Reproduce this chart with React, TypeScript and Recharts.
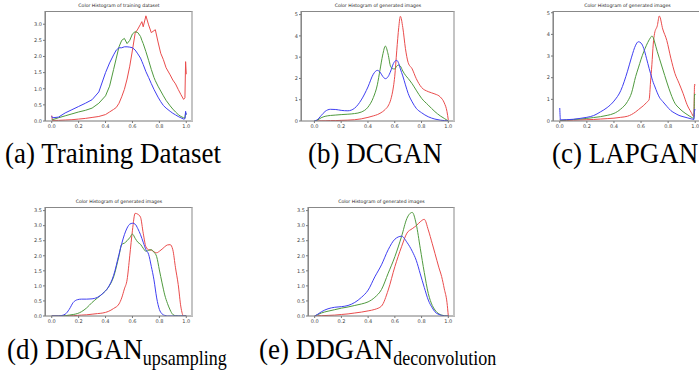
import { LineChart, Line, XAxis, YAxis } from "recharts"

const xTicks = [0, 0.2, 0.4, 0.6, 0.8, 1.0]

// (a) training dataset
const aX = [0, 0.005, 0.05, 0.1, 0.15, 0.2, 0.25, 0.3, 0.35, 0.4, 0.43, 0.46, 0.48, 0.5, 0.52, 0.54, 0.56, 0.58, 0.6, 0.62, 0.64, 0.66, 0.67, 0.68, 0.7, 0.72, 0.74, 0.76, 0.77, 0.79, 0.81, 0.83, 0.85, 0.88, 0.9, 0.92, 0.94, 0.96, 0.98, 0.99, 0.995, 1.0]
const aR = [0.17, 0.02, 0.02, 0.03, 0.04, 0.06, 0.08, 0.11, 0.14, 0.2, 0.28, 0.36, 0.42, 0.55, 0.75, 0.98, 1.3, 1.7, 2.2, 2.72, 2.85, 3.0, 3.08, 2.92, 3.26, 2.98, 2.74, 2.8, 2.83, 2.45, 2.1, 1.9, 1.65, 1.43, 1.27, 1.15, 0.98, 0.82, 0.67, 0.72, 1.84, 1.45]
const aG = [0.05, 0.04, 0.1, 0.16, 0.22, 0.28, 0.33, 0.4, 0.55, 0.78, 1.08, 1.6, 1.95, 2.3, 2.5, 2.56, 2.4, 2.5, 2.7, 2.77, 2.74, 2.62, 2.5, 2.4, 2.15, 1.88, 1.6, 1.35, 1.25, 1.08, 0.93, 0.78, 0.64, 0.47, 0.37, 0.28, 0.2, 0.14, 0.1, 0.09, 0.25, 0.2]
const aB = [0.15, 0.1, 0.12, 0.25, 0.35, 0.45, 0.55, 0.66, 0.9, 1.5, 1.8, 2.05, 2.2, 2.27, 2.27, 2.3, 2.3, 2.29, 2.27, 2.2, 2.08, 1.95, 1.85, 1.75, 1.53, 1.35, 1.16, 0.98, 0.9, 0.74, 0.6, 0.48, 0.4, 0.3, 0.24, 0.19, 0.14, 0.1, 0.06, 0.07, 0.3, 0.2]

// (b) DCGAN
const bX = [0, 0.02, 0.05, 0.08, 0.12, 0.16, 0.2, 0.25, 0.3, 0.35, 0.4, 0.44, 0.47, 0.49, 0.51, 0.53, 0.55, 0.57, 0.59, 0.6, 0.615, 0.63, 0.642, 0.66, 0.68, 0.7, 0.73, 0.76, 0.8, 0.85, 0.9, 0.94, 0.97, 0.99, 1.0]
const bR = [0, 0, 0.01, 0.01, 0.02, 0.02, 0.03, 0.04, 0.06, 0.1, 0.17, 0.24, 0.3, 0.36, 0.44, 0.55, 0.7, 1.0, 1.6, 2.1, 3.3, 4.4, 4.92, 4.4, 3.4, 2.75, 2.45, 2.0, 1.58, 1.38, 1.27, 1.13, 0.85, 0.45, 0.05]
const bG = [0, 0.03, 0.15, 0.22, 0.26, 0.28, 0.3, 0.32, 0.35, 0.42, 0.65, 1.1, 1.7, 2.4, 3.1, 3.52, 3.15, 2.55, 2.45, 2.45, 2.58, 2.63, 2.58, 2.35, 2.15, 2.0, 1.75, 1.45, 1.07, 0.75, 0.44, 0.24, 0.12, 0.04, 0.01]
const bB = [0, 0.05, 0.25, 0.45, 0.55, 0.54, 0.5, 0.48, 0.6, 0.99, 1.6, 2.2, 2.38, 2.3, 2.1, 1.99, 2.08, 2.35, 2.7, 2.8, 2.85, 2.7, 2.45, 2.12, 1.7, 1.3, 0.9, 0.6, 0.39, 0.2, 0.09, 0.04, 0.02, 0.01, 0]

// (c) LAPGAN
const cX = [0, 0.005, 0.05, 0.1, 0.15, 0.2, 0.25, 0.3, 0.35, 0.4, 0.45, 0.5, 0.53, 0.56, 0.58, 0.6, 0.62, 0.64, 0.66, 0.67, 0.68, 0.69, 0.7, 0.72, 0.735, 0.76, 0.79, 0.82, 0.85, 0.88, 0.91, 0.94, 0.97, 0.99, 0.995, 1.0]
const cR = [0.03, 0.02, 0.03, 0.04, 0.05, 0.06, 0.07, 0.09, 0.11, 0.13, 0.17, 0.22, 0.3, 0.42, 0.52, 0.62, 0.72, 0.85, 1.0, 1.8, 2.6, 3.55, 4.05, 4.4, 4.85, 4.25, 3.72, 2.9, 2.2, 1.75, 1.28, 0.75, 0.4, 0.2, 1.7, 1.65]
const cG = [0.05, 0.03, 0.05, 0.07, 0.09, 0.12, 0.16, 0.2, 0.26, 0.35, 0.55, 0.9, 1.3, 2.05, 2.45, 2.85, 3.2, 3.5, 3.75, 3.85, 3.92, 3.85, 3.65, 3.2, 2.9, 2.4, 1.8, 1.25, 0.82, 0.6, 0.43, 0.3, 0.18, 0.12, 1.25, 1.2]
const cB = [0.6, 0.05, 0.06, 0.08, 0.12, 0.17, 0.25, 0.42, 0.62, 0.92, 1.4, 2.3, 2.95, 3.5, 3.66, 3.6, 3.35, 2.9, 2.42, 2.2, 1.98, 1.78, 1.62, 1.3, 1.1, 0.9, 0.68, 0.48, 0.36, 0.26, 0.2, 0.15, 0.1, 0.07, 0.55, 0.5]

// (d) DDGAN upsampling
const dX = [0, 0.05, 0.1, 0.13, 0.16, 0.19, 0.22, 0.26, 0.3, 0.34, 0.38, 0.42, 0.46, 0.5, 0.52, 0.54, 0.56, 0.58, 0.6, 0.62, 0.64, 0.66, 0.68, 0.7, 0.72, 0.74, 0.76, 0.78, 0.8, 0.82, 0.84, 0.86, 0.88, 0.9, 0.92, 0.94, 0.96, 0.98, 1.0]
const dR = [0, 0, 0, 0.01, 0.01, 0.02, 0.03, 0.04, 0.06, 0.08, 0.1, 0.15, 0.25, 0.4, 0.6, 0.9, 1.2, 2.0, 2.85, 3.41, 3.38, 3.28, 2.75, 2.3, 2.2, 2.19, 2.13, 2.1, 2.15, 2.22, 2.3, 2.36, 2.37, 2.2, 1.6, 1.05, 0.3, 0, 0]
const dG = [0, 0, 0.01, 0.03, 0.05, 0.08, 0.14, 0.27, 0.45, 0.6, 0.75, 0.95, 1.3, 2.0, 2.38, 2.42, 2.5, 2.6, 2.72, 2.58, 2.45, 2.38, 2.25, 2.15, 2.18, 2.2, 2.12, 1.97, 1.53, 1.1, 0.7, 0.42, 0.2, 0.05, 0.01, 0, 0, 0, 0]
const dB = [0, 0, 0.06, 0.22, 0.45, 0.54, 0.56, 0.56, 0.57, 0.62, 0.75, 0.95, 1.35, 2.05, 2.4, 2.7, 2.92, 3.05, 3.08, 3.05, 2.9, 2.7, 2.45, 2.2, 2.05, 1.65, 1.2, 0.6, 0.22, 0.07, 0.02, 0, 0, 0, 0, 0, 0, 0, 0]

// (e) DDGAN deconvolution
const eX = [0, 0.02, 0.05, 0.1, 0.15, 0.2, 0.25, 0.3, 0.35, 0.4, 0.45, 0.5, 0.55, 0.6, 0.65, 0.69, 0.73, 0.76, 0.79, 0.82, 0.85, 0.88, 0.9, 0.93, 0.95, 0.97, 0.99, 1.0]
const eR = [0, 0.01, 0.01, 0.02, 0.03, 0.05, 0.07, 0.1, 0.13, 0.17, 0.22, 0.33, 0.86, 1.64, 2.3, 2.75, 2.9, 3.0, 3.13, 3.21, 2.86, 2.4, 2.08, 1.6, 1.31, 0.9, 0.45, 0]
const eG = [0, 0.04, 0.1, 0.16, 0.21, 0.26, 0.3, 0.35, 0.4, 0.47, 0.62, 0.88, 1.42, 1.97, 2.64, 3.24, 3.44, 3.05, 2.25, 1.45, 0.75, 0.35, 0.2, 0.07, 0.03, 0.01, 0, 0]
const eB = [0, 0.05, 0.14, 0.24, 0.29, 0.31, 0.35, 0.45, 0.62, 0.86, 1.3, 1.7, 2.2, 2.55, 2.65, 2.45, 2.15, 1.85, 1.4, 0.95, 0.53, 0.27, 0.14, 0.05, 0.02, 0, 0, 0]

const RED = "#ea4c4c"
const GREEN = "#4f9a3e"
const BLUE = "#3f3ff2"

const tickStyle = { fontSize: 5, fill: "#444", fontFamily: "DejaVu Sans" }

type Frame = { x: number; y: number; w: number; h: number }

function Panel(props: {
  xs: number[]; r: number[]; g: number[]; b: number[]
  frame: Frame; xMin: number; yMax: number; yTicks: number[]; yDigits: number
  curve: "linear" | "monotone"; edge?: boolean; title: string
}) {
  const { xs, r, g, b, frame, xMin, yMax, yTicks, yDigits, curve } = props
  const data = xs.map((x, i) => ({ x, r: r[i], g: g[i], b: b[i] }))
  const yW = 16
  const xH = 12
  return (
    <div style={{ position: "absolute", left: frame.x - yW, top: frame.y }}>
      <div style={{
        position: "absolute", left: yW, top: -8, width: frame.w, textAlign: "center",
        fontFamily: "DejaVu Sans", fontSize: 4.6, lineHeight: "6px", color: "#222", whiteSpace: "nowrap",
      }}>{props.title}</div>
      <LineChart width={frame.w + yW} height={frame.h + xH} data={data} margin={{ top: 0, right: 0, bottom: 0, left: 0 }}>
        <XAxis type="number" dataKey="x" domain={[xMin, 1.05]} ticks={xTicks} allowDataOverflow height={xH}
          tickSize={2} tickMargin={1} tick={tickStyle} stroke="#777" tickFormatter={(v: number) => v.toFixed(1)} />
        <YAxis type="number" domain={[0, yMax]} ticks={yTicks} allowDataOverflow width={yW}
          tickSize={2} tickMargin={1} tick={tickStyle} stroke="#777" tickFormatter={(v: number) => v.toFixed(yDigits)} />
        <Line type={curve} dataKey="r" stroke={RED} strokeWidth={1} dot={false} isAnimationActive={false} />
        <Line type={curve} dataKey="g" stroke={GREEN} strokeWidth={1} dot={false} isAnimationActive={false} />
        <Line type={curve} dataKey="b" stroke={BLUE} strokeWidth={1} dot={false} isAnimationActive={false} />
      </LineChart>
      <div style={{
        position: "absolute", left: yW, top: 0, width: frame.w, height: frame.h, boxSizing: "border-box",
        borderTop: "1px solid #888", borderLeft: "1px solid #888",
        borderRight: props.edge ? "2px solid #c4c4c4" : "1px solid #888", pointerEvents: "none",
      }} />
    </div>
  )
}

function Caption(props: { left: number; baseline: number; text: string; sub?: string }) {
  // line box of 27px Liberation Serif with line-height 1: baseline sits ~22.6px below its top
  return (
    <div style={{
      position: "absolute", left: props.left, top: props.baseline - 22.6, whiteSpace: "nowrap",
      fontFamily: "'Liberation Serif', 'Times New Roman', serif", fontSize: 27, lineHeight: 1, color: "#000",
      transform: "scaleY(1.12)", transformOrigin: "0 22.6px",
    }}>
      {props.text}
      {props.sub && <span style={{ fontSize: 18, position: "relative", top: 5 }}>{props.sub}</span>}
    </div>
  )
}

const fA = { x: 45, y: 11, w: 148, h: 110 }
const fB = { x: 301, y: 11, w: 154, h: 110 }
const fC = { x: 553, y: 11, w: 149, h: 110 }
const fD = { x: 45, y: 207, w: 148, h: 109 }
const fE = { x: 308, y: 207, w: 147, h: 109 }

const halfTicks3 = [0, 0.5, 1, 1.5, 2, 2.5, 3]
const halfTicks35 = [0, 0.5, 1, 1.5, 2, 2.5, 3, 3.5]
const intTicks = [0, 1, 2, 3, 4, 5]

const trainTitle = "Color Histogram of training dataset"
const genTitle = "Color Histogram of generated images"

export default function App() {
  return (
    <div style={{ position: "absolute", left: 0, top: 0, width: 699, height: 373, background: "#fff", overflow: "hidden" }}>
      <Panel xs={aX} r={aR} g={aG} b={aB} frame={fA} xMin={-0.05} yMax={3.41} yTicks={halfTicks3} yDigits={1} curve="linear" edge title={trainTitle} />
      <Panel xs={bX} r={bR} g={bG} b={bB} frame={fB} xMin={-0.1} yMax={5.17} yTicks={intTicks} yDigits={0} curve="monotone" edge title={genTitle} />
      <Panel xs={cX} r={cR} g={cG} b={cB} frame={fC} xMin={-0.05} yMax={5.08} yTicks={intTicks} yDigits={0} curve="monotone" title={genTitle} />
      <Panel xs={dX} r={dR} g={dG} b={dB} frame={fD} xMin={-0.05} yMax={3.62} yTicks={halfTicks35} yDigits={1} curve="monotone" edge title={genTitle} />
      <Panel xs={eX} r={eR} g={eG} b={eB} frame={fE} xMin={-0.05} yMax={3.62} yTicks={halfTicks35} yDigits={1} curve="monotone" edge title={genTitle} />
      <Caption left={5} baseline={164} text="(a) Training Dataset" />
      <Caption left={308} baseline={164} text="(b) DCGAN" />
      <Caption left={552} baseline={164} text="(c) LAPGAN" />
      <Caption left={7} baseline={360} text="(d) DDGAN" sub="upsampling" />
      <Caption left={259} baseline={360} text="(e) DDGAN" sub="deconvolution" />
    </div>
  )
}
